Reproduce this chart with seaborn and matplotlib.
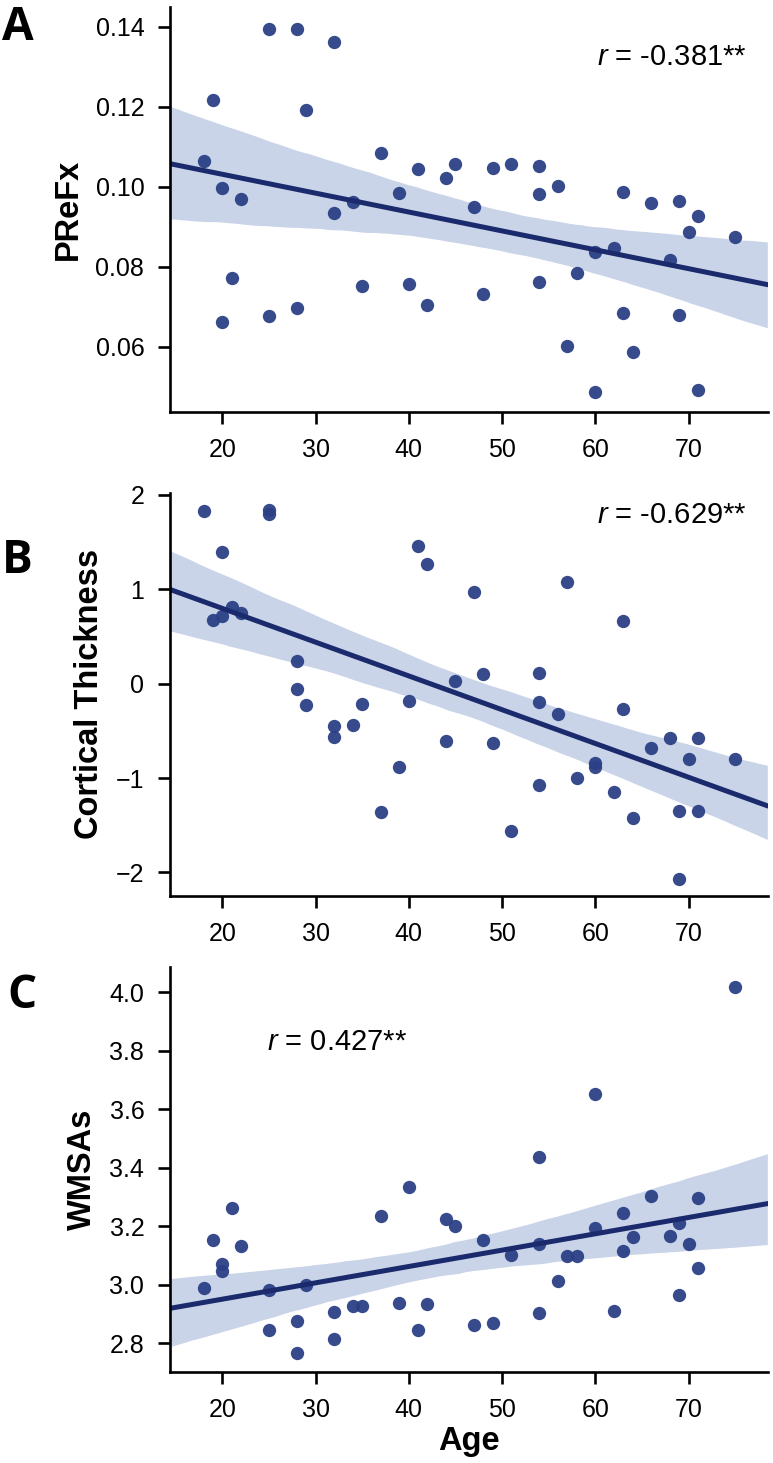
import matplotlib
matplotlib.use('Agg')
import matplotlib.pyplot as plt
import seaborn as sns
import pandas as pd

# ages of the 46 subjects (shared by all three panels)
age = [18, 19, 20, 20, 21, 22, 25, 25, 28, 28, 29, 32, 32, 34, 35, 37,
       39, 40, 41, 42, 44, 45, 47, 48, 49, 51, 54, 54, 54, 56, 57, 58,
       60, 60, 62, 63, 63, 64, 66, 68, 69, 69, 70, 71, 71, 75]

prefx = [0.1064, 0.1217, 0.0997, 0.0663, 0.0773, 0.0969, 0.1394, 0.0677,
         0.1394, 0.0696, 0.1192, 0.1362, 0.0935, 0.0961, 0.0753, 0.1084,
         0.0985, 0.0756, 0.1044, 0.0705, 0.1022, 0.1058, 0.0949, 0.0733,
         0.1046, 0.1057, 0.1052, 0.0982, 0.0762, 0.1001, 0.0603, 0.0785,
         0.0837, 0.0486, 0.0846, 0.0988, 0.0685, 0.0588, 0.0960, 0.0818,
         0.0964, 0.0679, 0.0888, 0.0928, 0.0492, 0.0875]

thickness = [1.830, 0.674, 1.396, 0.720, 0.809, 0.752, 1.841, 1.795,
             0.238, -0.053, -0.227, -0.453, -0.563, -0.436, -0.216, -1.358,
             -0.881, -0.185, 1.463, 1.268, -0.609, 0.029, 0.968, 0.099,
             -0.627, -1.563, 0.112, -0.199, -1.075, -0.319, 1.077, -1.004,
             -0.84, -0.88, -1.146, 0.664, -0.273, -1.422, -0.680, -0.573,
             -1.351, -2.065, -0.800, -0.573, -1.351, -0.800]

wmsa = [2.987, 3.151, 3.071, 3.048, 3.262, 3.131, 2.983, 2.844,
        2.876, 2.765, 2.997, 2.907, 2.813, 2.926, 2.926, 3.233,
        2.936, 3.332, 2.844, 2.934, 3.225, 3.202, 2.861, 3.151,
        2.869, 3.102, 3.435, 3.139, 2.904, 3.011, 3.099, 3.099,
        3.653, 3.194, 2.908, 3.245, 3.116, 3.164, 3.302, 3.165,
        3.211, 2.963, 3.139, 3.296, 3.056, 4.019]

r_text = ['-0.381**', '-0.629**', '0.427**']
panel_letters = ['A', 'B', 'C']
ylabels = ['PReFx', 'Cortical Thickness', 'WMSAs']

df = pd.DataFrame({'Age': age, 'PReFx': prefx,
                   'Cortical Thickness': thickness, 'WMSAs': wmsa})

sns.set_style('ticks')
plt.rcParams['font.family'] = ['Liberation Sans', 'DejaVu Sans']
plt.rcParams['mathtext.fontset'] = 'custom'
plt.rcParams['mathtext.it'] = 'Liberation Sans:italic'
plt.rcParams['mathtext.rm'] = 'Liberation Sans'
plt.rcParams['text.color'] = 'black'
plt.rcParams['axes.labelcolor'] = 'black'
plt.rcParams['axes.edgecolor'] = 'black'

W, H = 773, 1463
fig = plt.figure(figsize=(W / 100, H / 100), dpi=100)

# axes boxes in pixels: (top, bottom)
boxes = [(7.3, 412.3), (492.7, 896.0), (966.7, 1372.3)]
left_px, right_px = 170, 768
ylims = [(0.0436, 0.1449), (-2.25, 2.024), (2.70, 4.087)]
yticks = [[0.06, 0.08, 0.10, 0.12, 0.14], [-2, -1, 0, 1, 2],
          [2.8, 3.0, 3.2, 3.4, 3.6, 3.8, 4.0]]
# annotation positions (axes fraction, baseline)
r_pos = [(0.7135, 0.8575), (0.7135, 0.9256), (0.1627, 0.7946)]
letter_pos = [(18, 40), (17, 573), (22, 1008)]

dot_color = '#2b4086'
line_color = '#1a2a6c'
band_color = '#c9d4e8'

for i, col in enumerate(ylabels):
    top, bottom = boxes[i]
    ax = fig.add_axes([left_px / W, 1 - bottom / H,
                       (right_px - left_px) / W, (bottom - top) / H])
    ax.set_xlim(14.4, 78.5)
    sns.regplot(data=df, x='Age', y=col, ax=ax, truncate=False, seed=0,
                scatter_kws={'s': 92, 'color': dot_color, 'alpha': 0.95,
                             'linewidths': 0},
                line_kws={'color': line_color, 'lw': 3.6})
    band = ax.collections[-1]
    band.set_facecolor(band_color)
    band.set_alpha(1)
    band.set_zorder(0)

    ax.set_ylim(*ylims[i])
    ax.set_yticks(yticks[i])
    ax.set_xticks([20, 30, 40, 50, 60, 70])
    sns.despine(ax=ax)
    for s in ['left', 'bottom']:
        ax.spines[s].set_linewidth(1.9)
    ax.tick_params(length=8.5, width=1.9, pad=10, labelsize=18,
                   color='black', labelcolor='black')

    ax.set_ylabel(col, fontsize=23.5, fontweight='bold', labelpad=8)
    if i == 2:
        ax.set_xlabel('Age', fontsize=23.5, fontweight='bold', labelpad=3)
    else:
        ax.set_xlabel('')

    ax.text(r_pos[i][0], r_pos[i][1], r'$\it{r}$ = ' + r_text[i],
            transform=ax.transAxes, fontsize=21, ha='left', va='baseline')

    lx, ly = letter_pos[i]
    fig.text(lx / W, 1 - ly / H, panel_letters[i], fontsize=33,
             fontweight='bold', family='Open Sans', ha='center', va='baseline')

fig.savefig('out.png', dpi=100)
